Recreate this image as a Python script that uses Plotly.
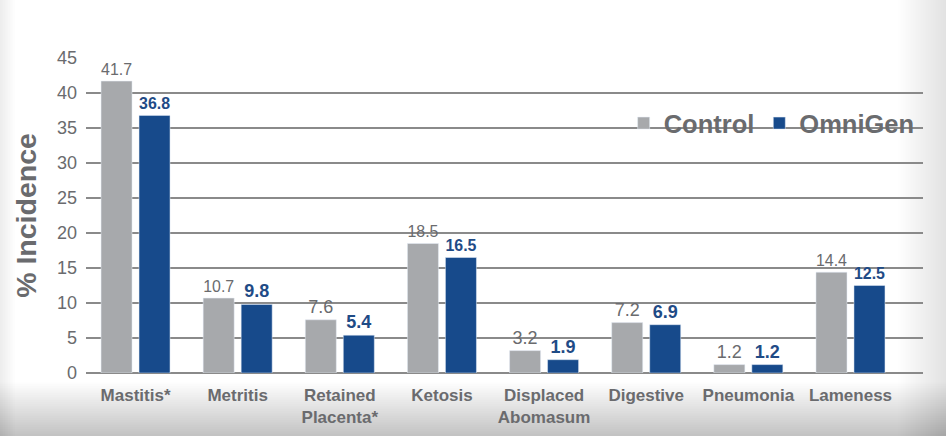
import plotly.graph_objects as go

categories = ["Mastitis*", "Metritis", "Retained<br>Placenta*", "Ketosis",
              "Displaced<br>Abomasum", "Digestive", "Pneumonia", "Lameness"]
control = [41.7, 10.7, 7.6, 18.5, 3.2, 7.2, 1.2, 14.4]
omnigen = [36.8, 9.8, 5.4, 16.5, 1.9, 6.9, 1.2, 12.5]
y_ticks = [0, 5, 10, 15, 20, 25, 30, 35, 40, 45]

GREY_BAR = "#a7a9ac"
BLUE_BAR = "#174a8b"
TEXT_GREY = "#6a6b6e"
SANS = "Liberation Sans, Arial, sans-serif"

fig = go.Figure()
fig.add_trace(go.Bar(
    name="Control", x=categories, y=control, marker_color=GREY_BAR,
    text=[f"{v:.1f}" for v in control], textposition="outside",
    textfont=dict(family=SANS, size=18, color=TEXT_GREY),
    cliponaxis=False,
))
fig.add_trace(go.Bar(
    name="OmniGen", x=categories, y=omnigen, marker_color=BLUE_BAR,
    text=[f"<b>{v:.1f}</b>" for v in omnigen], textposition="outside",
    textfont=dict(family=SANS, size=18, color="#1f4b86"),
    cliponaxis=False,
))

# soft vignette background (bottom and right edges darker)
shapes = []
n = 30
for i in range(n):
    yb = -0.03 - i * (0.17 / n)
    shapes.append(dict(type="rect", xref="paper", yref="paper",
                       x0=-0.2, x1=1.2, y0=-0.3, y1=yb,
                       fillcolor="rgba(120,120,120,0.013)", line_width=0, layer="below"))
    xr = 0.97 + i * (0.06 / n)
    shapes.append(dict(type="rect", xref="paper", yref="paper",
                       x0=xr, x1=1.2, y0=-0.3, y1=1.3,
                       fillcolor="rgba(120,120,120,0.009)", line_width=0, layer="below"))
for i in range(10):
    xl = -0.103 + i * 0.002
    shapes.append(dict(type="rect", xref="paper", yref="paper",
                       x0=-0.2, x1=xl, y0=-0.3, y1=1.3,
                       fillcolor="rgba(120,120,120,0.01)", line_width=0, layer="below"))

fig.update_layout(
    width=946, height=436,
    margin=dict(l=86, r=23, t=58, b=63),
    paper_bgcolor="white", plot_bgcolor="rgba(0,0,0,0)",
    barmode="group", bargap=0.256, bargroupgap=0.184,
    shapes=shapes,
    font=dict(family=SANS, color=TEXT_GREY),
    legend=dict(orientation="h", x=0.996, xanchor="right", y=0.792, yanchor="middle",
                font=dict(size=25.5, color=TEXT_GREY, family=SANS, weight="bold"),
                bgcolor="rgba(0,0,0,0)", itemwidth=30, traceorder="normal"),
    showlegend=True,
)
fig.update_yaxes(
    range=[0, 45], tickvals=y_ticks, showgrid=True, gridcolor="#8a8a8a", gridwidth=1.5,
    zeroline=True, zerolinecolor="#8a8a8a", zerolinewidth=1.5, automargin=False,
    tickfont=dict(family=SANS, size=18, color=TEXT_GREY), ticks="", ticklabelstandoff=8,
    title=dict(text="<b>% Incidence</b>", font=dict(size=28.5, color=TEXT_GREY, family=SANS),
               standoff=11),
)
fig.update_xaxes(
    range=[-0.485, 7.71], showgrid=False, ticks="", showline=False, ticklabelstandoff=10,
    automargin=False,
    tickfont=dict(size=17, color=TEXT_GREY, family=SANS, weight="bold"),
)

fig.write_html("out.html", config={"displayModeBar": False},
               post_script="document.body.style.margin='0';")
